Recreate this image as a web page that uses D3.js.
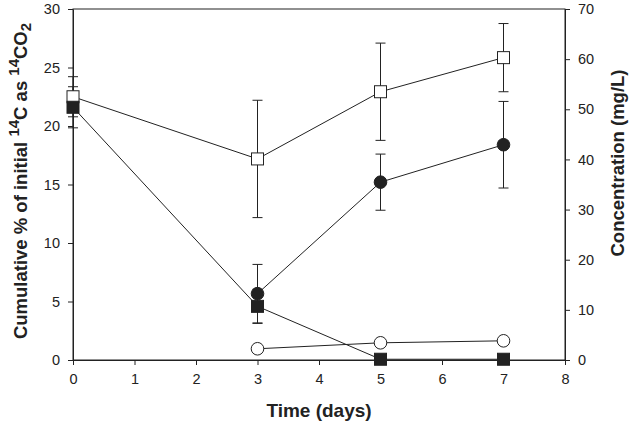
<!DOCTYPE html>
<html>
<head>
<meta charset="utf-8">
<script src="https://cdn.jsdelivr.net/npm/d3@7"></script>
<style>
	body{margin:0;background:#fff;}
	svg text{font-family:"Liberation Sans",Arial,sans-serif;fill:#222;}
</style>
</head>
<body>
<div id="chart"></div>
<script>
// days sampled
var days=[0,3,5,7];
// concentration series (right axis, mg/L)
var openSq=[52.5,40.1,53.5,60.3];
var openSqErr=[4.0,11.7,9.7,6.8];
var fillSq=[50.4,10.7,0.15,0.15];
var fillSqErr=[4.1,3.4,0,0];
// cumulative 14CO2 series (left axis, %)
var circDays=[3,5,7];
var fillCirc=[5.67,15.2,18.4];
var fillCircErr=[2.5,2.4,3.7];
var openCirc=[0.96,1.47,1.64];

var xTicks=[0,1,2,3,4,5,6,7,8];
var yLeftTicks=[0,5,10,15,20,25,30];
var yRightTicks=[0,10,20,30,40,50,60,70];

var W=630,H=424;
var m={left:73,right:65,top:9,bottom:64};
var svg=d3.select("#chart").append("svg").attr("width",W).attr("height",H);

var x=d3.scaleLinear().domain([0,8]).range([m.left,W-m.right]);
var yL=d3.scaleLinear().domain([0,30]).range([H-m.bottom,m.top]);
var yR=d3.scaleLinear().domain([0,70]).range([H-m.bottom,m.top]);

var ink="#222";

// frame
svg.append("rect").attr("x",m.left).attr("y",m.top)
	.attr("width",W-m.left-m.right).attr("height",H-m.top-m.bottom)
	.attr("fill","none").attr("stroke",ink).attr("stroke-width",1);

function styleAxis(g){
	g.select(".domain").attr("stroke",ink);
	g.selectAll(".tick line").attr("stroke",ink);
	g.selectAll(".tick text").attr("font-size",14.5).attr("fill",ink)
		.style("font-family",'"Liberation Sans",Arial,sans-serif');
}

svg.append("g").attr("transform","translate(0,"+(H-m.bottom)+")")
	.call(d3.axisBottom(x).tickValues(xTicks).tickFormat(d3.format("d")).tickSize(5).tickPadding(9).tickSizeOuter(0))
	.call(styleAxis);
svg.append("g").attr("transform","translate("+m.left+",0)")
	.call(d3.axisLeft(yL).tickValues(yLeftTicks).tickSize(5).tickPadding(8).tickSizeOuter(0))
	.call(styleAxis);
svg.append("g").attr("transform","translate("+(W-m.right)+",0)")
	.call(d3.axisRight(yR).tickValues(yRightTicks).tickSize(5).tickPadding(8).tickSizeOuter(0))
	.call(styleAxis);

// titles
svg.append("text").attr("x",(m.left+W-m.right)/2).attr("y",417)
	.attr("text-anchor","middle").attr("font-size",19).attr("font-weight","bold").text("Time (days)");

var lt=svg.append("text").attr("transform","translate(27,181) rotate(-90)")
	.attr("text-anchor","middle").attr("font-size",18.5).attr("font-weight","bold");
lt.append("tspan").text("Cumulative % of initial ");
lt.append("tspan").attr("font-size",15).attr("dy",-8).text("14");
lt.append("tspan").attr("dy",8).text("C as ");
lt.append("tspan").attr("font-size",15).attr("dy",-8).text("14");
lt.append("tspan").attr("dy",8).text("CO");
lt.append("tspan").attr("font-size",15).attr("dy",4).text("2");

svg.append("text").attr("transform","translate(624,163) rotate(-90)")
	.attr("text-anchor","middle").attr("font-size",18.5).attr("font-weight","bold").text("Concentration (mg/L)");

// build series
function pts(xs,ys,errs,scale){
	return xs.map(function(d,i){return {x:d,y:ys[i],e:errs?errs[i]:0,s:scale};});
}
var series=[
	{data:pts(days,openSq,openSqErr,yR),shape:"square",fill:"#fff"},
	{data:pts(days,fillSq,fillSqErr,yR),shape:"square",fill:ink},
	{data:pts(circDays,fillCirc,fillCircErr,yL),shape:"circle",fill:ink},
	{data:pts(circDays,openCirc,null,yL),shape:"circle",fill:"#fff"}
];

var line=d3.line().x(function(d){return x(d.x);}).y(function(d){return d.s(d.y);});
series.forEach(function(s){
	svg.append("path").datum(s.data).attr("d",line)
		.attr("fill","none").attr("stroke",ink).attr("stroke-width",1);
});

// error bars
series.forEach(function(s){
	var eb=s.data.filter(function(d){return d.e>0;});
	var g=svg.append("g").attr("stroke",ink).attr("stroke-width",1);
	g.selectAll("line.v").data(eb).enter().append("line")
		.attr("x1",function(d){return x(d.x);}).attr("x2",function(d){return x(d.x);})
		.attr("y1",function(d){return d.s(d.y+d.e);}).attr("y2",function(d){return d.s(d.y-d.e);});
	[1,-1].forEach(function(sg){
		g.selectAll("line.c"+sg).data(eb).enter().append("line")
			.attr("x1",function(d){return x(d.x)-5;}).attr("x2",function(d){return x(d.x)+5;})
			.attr("y1",function(d){return d.s(d.y+sg*d.e);}).attr("y2",function(d){return d.s(d.y+sg*d.e);});
	});
});

// markers
series.forEach(function(s){
	var g=svg.append("g");
	if(s.shape=="square"){
		g.selectAll("rect").data(s.data).enter().append("rect")
			.attr("x",function(d){return x(d.x)-6;}).attr("y",function(d){return d.s(d.y)-6;})
			.attr("width",12).attr("height",12)
			.attr("fill",s.fill).attr("stroke",ink).attr("stroke-width",1);
	}else{
		g.selectAll("circle").data(s.data).enter().append("circle")
			.attr("cx",function(d){return x(d.x);}).attr("cy",function(d){return d.s(d.y);})
			.attr("r",6.3)
			.attr("fill",s.fill).attr("stroke",ink).attr("stroke-width",1);
	}
});
</script>
</body>
</html>
